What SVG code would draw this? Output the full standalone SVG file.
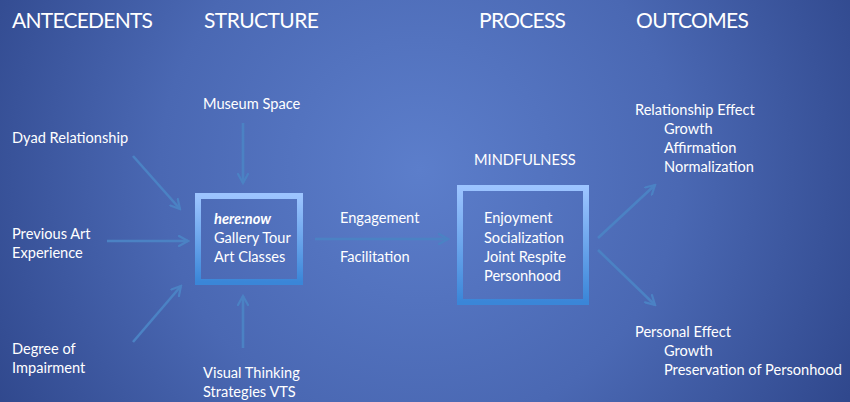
<svg xmlns="http://www.w3.org/2000/svg" width="850" height="402" viewBox="0 0 850 402">
<defs>
<radialGradient id="bg" cx="420" cy="170" r="520" gradientUnits="userSpaceOnUse">
<stop offset="0" stop-color="#5c7ecb"/>
<stop offset="0.5" stop-color="#4a68b3"/>
<stop offset="1" stop-color="#2c4387"/>
</radialGradient>
<linearGradient id="frame" x1="0" y1="0" x2="0" y2="1">
<stop offset="0" stop-color="#9cc4ff"/>
<stop offset="1" stop-color="#3a86d8"/>
</linearGradient>
<marker id="ah" viewBox="0 0 12 12" refX="10" refY="6" markerWidth="12" markerHeight="12" markerUnits="userSpaceOnUse" orient="auto">
<path d="M1,1 L10,6 L1,11" fill="none" stroke="#4b82c4" stroke-width="2.2" stroke-linecap="round"/>
</marker>
</defs>
<style>
text{font-family:Lato,"Liberation Sans",sans-serif;fill:#ffffff}
.h{font-size:21px}
.t{font-size:14.6px}
.bi{font-weight:bold;font-style:italic}
.c line{stroke:#4b82c4;stroke-width:2.6;marker-end:url(#ah)}
.box{fill:none;stroke:url(#frame);stroke-width:6}
</style>
<rect width="850" height="402" fill="url(#bg)"/>

<g id="headers">
<text class="h" x="12" y="28" textLength="141">ANTECEDENTS</text>
<text class="h" x="204" y="28" textLength="115">STRUCTURE</text>
<text class="h" x="479" y="28" textLength="87">PROCESS</text>
<text class="h" x="636" y="28" textLength="113">OUTCOMES</text>
</g>

<g class="c" id="connectors">
<line x1="133" y1="156" x2="180" y2="209"/>
<line x1="107" y1="241" x2="188" y2="241"/>
<line x1="133" y1="342" x2="181" y2="286"/>
<line x1="243" y1="123" x2="243" y2="183"/>
<line x1="243" y1="348" x2="243" y2="296"/>
<line x1="315" y1="239" x2="448" y2="239"/>
<line x1="598" y1="238" x2="655" y2="185"/>
<line x1="598" y1="250" x2="655" y2="305"/>
</g>

<g id="dyad"><text class="t" x="12" y="143">Dyad Relationship</text></g>
<g id="prevart"><text class="t" x="12" y="239">Previous Art</text><text class="t" x="12" y="258">Experience</text></g>
<g id="degree"><text class="t" x="12" y="354">Degree of</text><text class="t" x="12" y="373">Impairment</text></g>
<g id="museum"><text class="t" x="203" y="109">Museum Space</text></g>
<g id="vts"><text class="t" x="203" y="378">Visual Thinking</text><text class="t" x="203" y="397">Strategies VTS</text></g>

<g id="herenow">
<rect class="box" x="198" y="196" width="102" height="86"/>
<text class="t bi" x="214" y="224">here:now</text>
<text class="t" x="214" y="243">Gallery Tour</text>
<text class="t" x="214" y="262">Art Classes</text>
</g>

<g id="engagement"><text class="t" x="340" y="223">Engagement</text><text class="t" x="340" y="262">Facilitation</text></g>

<g id="mindfulness">
<text class="t" x="474" y="165">MINDFULNESS</text>
<rect class="box" x="460" y="188" width="126" height="114"/>
<text class="t" x="484" y="223">Enjoyment</text>
<text class="t" x="484" y="243">Socialization</text>
<text class="t" x="484" y="262">Joint Respite</text>
<text class="t" x="484" y="281">Personhood</text>
</g>

<g id="relationship">
<text class="t" x="635" y="115">Relationship Effect</text>
<text class="t" x="664" y="134">Growth</text>
<text class="t" x="664" y="153">Affirmation</text>
<text class="t" x="664" y="172">Normalization</text>
</g>

<g id="personal">
<text class="t" x="635" y="337">Personal Effect</text>
<text class="t" x="664" y="356">Growth</text>
<text class="t" x="664" y="375">Preservation of Personhood</text>
</g>
</svg>
